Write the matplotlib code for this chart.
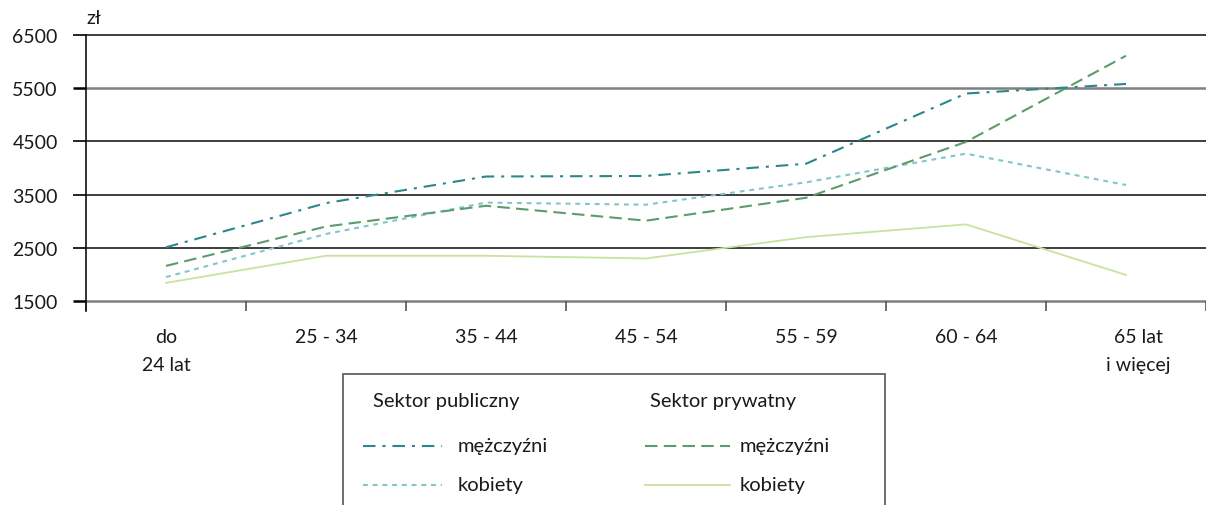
import numpy as np
import matplotlib.pyplot as plt
from matplotlib.lines import Line2D
from matplotlib.patches import Rectangle
from matplotlib.transforms import ScaledTranslation

plt.rcParams["font.family"] = ["Lato", "DejaVu Sans"]
plt.rcParams["lines.scale_dashes"] = False

categories = ["do\n24 lat", "25 - 34", "35 - 44", "45 - 54", "55 - 59", "60 - 64", "65 lat\ni więcej"]
pub_men = [2510, 3340, 3840, 3850, 4080, 5400, 5580]
pub_women = [1950, 2760, 3350, 3310, 3730, 4270, 3680]
priv_men = [2160, 2900, 3290, 3010, 3440, 4490, 6110]
priv_women = [1840, 2350, 2350, 2300, 2700, 2940, 1990]
yticks = [1500, 2500, 3500, 4500, 5500, 6500]

c_pub_men = "#2b878b"
c_pub_women = "#80c6cb"
c_priv_men = "#5c9c6c"
c_priv_women = "#c8e29f"

st_pub_men = dict(color=c_pub_men, lw=1.5, dashes=(9, 5, 2.2, 5))
st_pub_women = dict(color=c_pub_women, lw=1.5, dashes=(3.5, 3.5))
st_priv_men = dict(color=c_priv_men, lw=1.5, dashes=(9, 4.5))
st_priv_women = dict(color=c_priv_women, lw=1.3)

W, H = 1206, 506
fig = plt.figure(figsize=(W / 100, H / 100), dpi=100)
ax = fig.add_axes([86 / W, 1 - 302 / H, 1 - 86 / W, (302 - 36) / H])

x = np.arange(len(categories))
ax.plot(x, priv_women, **st_priv_women)
ax.plot(x, pub_women, **st_pub_women)
ax.plot(x, priv_men, **st_priv_men)
ax.plot(x, pub_men, **st_pub_men)

ax.set_ylim(1500, 6500)
ax.set_xlim(-0.5, -0.5 + (W - 86) / 162)

ax.set_yticks(yticks)
ax.set_yticklabels([str(v) for v in yticks])
ax.tick_params(axis="y", length=9.4, width=1.2, pad=11, labelsize=14, labelcolor="#1a1a1a")
for t, v in zip(ax.yaxis.get_major_ticks(), yticks):
    col = "#7f7f7f" if v in (1500, 5500) else "#1e1e1e"
    lw = 1.8 if v in (1500, 5500) else 1.2
    t.tick1line.set_color(col)
    t.tick1line.set_markeredgewidth(lw)
    ax.axhline(v, color=col, lw=lw, zorder=0.5, clip_on=False)

ax.set_xticks(np.arange(-0.5, len(categories), 1.0))
ax.set_xticklabels([])
ax.tick_params(axis="x", which="major", length=7.2, width=1.2, color="#555555")
ax.set_xticks(x, minor=True)
ax.set_xticklabels(categories, minor=True, linespacing=1.8)
ax.tick_params(axis="x", which="minor", length=0, pad=19.5, labelsize=14, labelcolor="#1a1a1a")
# last label sits a bit right of its category in the original
last = ax.get_xticklabels(minor=True)[-1]
last.set_transform(last.get_transform() + ScaledTranslation(0.12, 0, fig.dpi_scale_trans))

for s in ["top", "right", "bottom"]:
    ax.spines[s].set_visible(False)
ax.spines["left"].set_color("#111111")
ax.spines["left"].set_linewidth(1.2)
ax.plot([0, 0], [-0.036, 0], transform=ax.transAxes, color="#111111", lw=1.2, clip_on=False)

fig.text(86 / W, 1 - 18 / H, "zł", fontsize=14, va="center", ha="left", color="#1a1a1a")

# legend box drawn by hand
fs = 14.5
fig.patches.append(Rectangle((343 / W, 1 - 520 / H), (885 - 343) / W, (520 - 375) / H,
                             transform=fig.transFigure, fill=False, ec="#555555", lw=1.2))
fig.text(373 / W, 1 - 402 / H, "Sektor publiczny", fontsize=fs, va="center", color="#1a1a1a")
fig.text(650 / W, 1 - 402 / H, "Sektor prywatny", fontsize=fs, va="center", color="#1a1a1a")
rows = [
    (363, 442, 458, 447, "mężczyźni", st_pub_men),
    (363, 442, 458, 486, "kobiety", st_pub_women),
    (645, 730, 740, 447, "mężczyźni", st_priv_men),
    (645, 730, 740, 486, "kobiety", st_priv_women),
]
for x0, x1, xt, yy, label, st in rows:
    fig.lines.append(Line2D([x0 / W, x1 / W], [1 - yy / H, 1 - yy / H], transform=fig.transFigure, **st))
    fig.text(xt / W, 1 - yy / H, label, fontsize=fs, va="center", color="#1a1a1a")

fig.savefig("out.png", dpi=100)
